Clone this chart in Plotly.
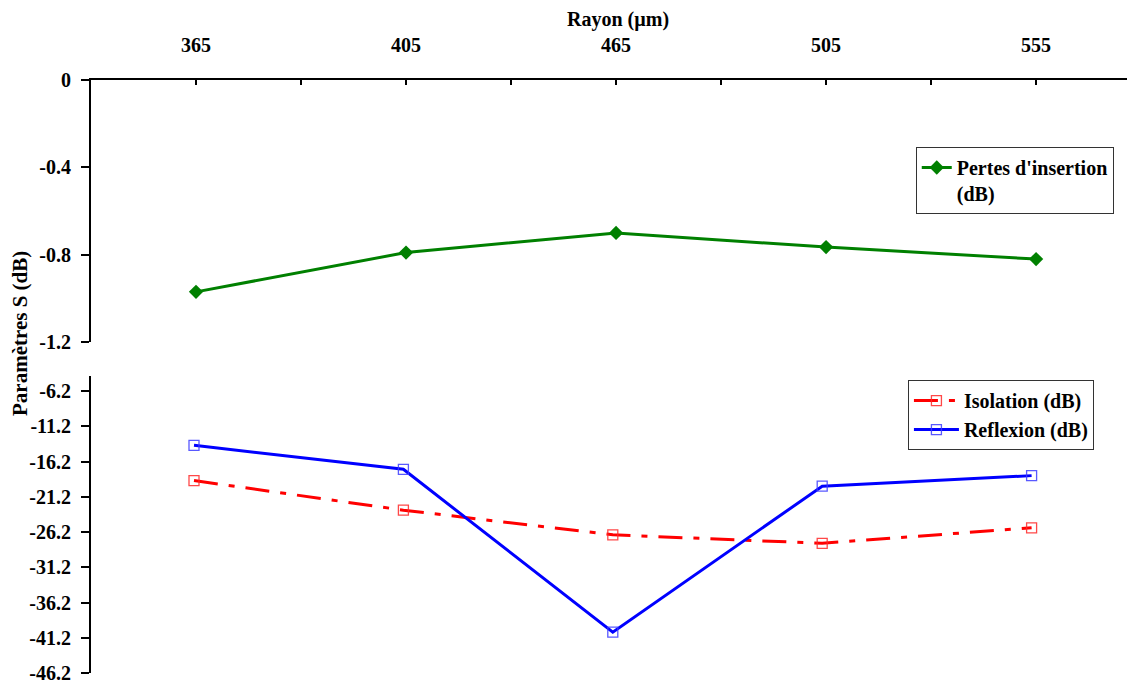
import plotly.graph_objects as go

# ---- data ----
rayon = ["365", "405", "465", "505", "555"]
pertes_insertion = [-0.97, -0.79, -0.70, -0.765, -0.82]
isolation = [-18.9, -23.1, -26.6, -27.8, -25.6]
reflexion = [-13.9, -17.3, -40.4, -19.7, -18.2]

top_tickvals = [0, -0.4, -0.8, -1.2]
top_ticktext = ["0", "-0.4", "-0.8", "-1.2"]
bot_tickvals = [-6.2, -11.2, -16.2, -21.2, -26.2, -31.2, -36.2, -41.2, -46.2]
bot_ticktext = ["-6.2", "-11.2", "-16.2", "-21.2", "-26.2", "-31.2", "-36.2", "-41.2", "-46.2"]

pos = list(range(len(rayon)))
minor_pos = [p + 0.5 for p in pos]

FONT = "Liberation Serif, Times New Roman, serif"

fig = go.Figure()

fig.add_trace(go.Scatter(
    x=pos, y=pertes_insertion, xaxis="x", yaxis="y",
    mode="lines+markers", name="Pertes d'insertion<br>(dB)",
    line=dict(color="#008000", width=3),
    marker=dict(symbol="diamond", size=11, color="#008000"),
    legend="legend", showlegend=True,
))
fig.add_trace(go.Scatter(
    x=pos, y=isolation, xaxis="x2", yaxis="y2",
    mode="lines+markers", name="Isolation (dB)",
    line=dict(color="#ff0000", width=3, dash="24px,11px,6px,11px"),
    marker=dict(symbol="square-open", size=10, color="rgba(255,40,40,0.85)",
                line=dict(width=1.3, color="rgba(255,40,40,0.85)")),
    legend="legend2", showlegend=True,
))
fig.add_trace(go.Scatter(
    x=pos, y=reflexion, xaxis="x2", yaxis="y2",
    mode="lines+markers", name="Reflexion (dB)",
    line=dict(color="#0000ff", width=3),
    marker=dict(symbol="square-open", size=10, color="rgba(60,60,255,0.85)",
                line=dict(width=1.3, color="rgba(60,60,255,0.85)")),
    legend="legend2", showlegend=True,
))

tick_font = dict(family=FONT, size=20, color="black", weight="bold")
legend_font = dict(family=FONT, size=20, color="black", weight="bold")

# the page body has an 8px margin: figure spans x 8..1135, y 8..686
fig.update_layout(
    width=1127, height=678,
    margin=dict(l=83, r=0, t=72, b=13),
    paper_bgcolor="white", plot_bgcolor="white",
    showlegend=True,
    font=dict(family=FONT, size=20, color="black", weight="bold"),
    xaxis=dict(
        domain=[0, 1], anchor="y", side="top",
        range=[-0.5, 4.471],
        tickmode="array", tickvals=pos, ticktext=rayon,
        ticks="inside", ticklen=5, tickwidth=2, tickcolor="black",
        showline=True, linecolor="black", linewidth=2,
        showgrid=False, zeroline=False,
        tickfont=tick_font, ticklabelstandoff=18,
        minor=dict(tickmode="array", tickvals=minor_pos, ticks="inside",
                   ticklen=5, tickwidth=2, tickcolor="black", showgrid=False),
    ),
    yaxis=dict(
        domain=[0.558, 1], anchor="x",
        range=[-1.2, 0],
        tickmode="array", tickvals=top_tickvals, ticktext=top_ticktext,
        ticks="outside", ticklen=8, tickwidth=2, tickcolor="black",
        showline=True, linecolor="black", linewidth=2,
        showgrid=False, zeroline=False,
        tickfont=tick_font, ticklabelstandoff=6,
    ),
    xaxis2=dict(
        domain=[0, 1], anchor="y2",
        range=[-0.4919, 4.4938],
        visible=False, showgrid=False, zeroline=False,
    ),
    yaxis2=dict(
        domain=[0, 0.5008], anchor="x2",
        range=[-46.2, -4.07],
        tickmode="array", tickvals=bot_tickvals, ticktext=bot_ticktext,
        ticks="outside", ticklen=8, tickwidth=2, tickcolor="black",
        showline=True, linecolor="black", linewidth=2,
        showgrid=False, zeroline=False,
        tickfont=tick_font, ticklabelstandoff=6,
    ),
    legend=dict(
        x=0.790, y=0.887, xanchor="left", yanchor="top",
        bgcolor="white", bordercolor="#333333", borderwidth=1,
        font=legend_font, valign="top", visible=True,
    ),
    legend2=dict(
        x=0.7825, y=0.494, xanchor="left", yanchor="top",
        bgcolor="white", bordercolor="#333333", borderwidth=1,
        font=legend_font, tracegroupgap=0, visible=True, itemwidth=45,
    ),
    annotations=[
        dict(text="Rayon (µm)", x=0.5048, y=1.1012, xref="paper", yref="paper",
             showarrow=False, xanchor="center", yanchor="middle",
             font=dict(family=FONT, size=20, color="black", weight="bold")),
        dict(text="Paramètres S (dB)", x=-0.068, y=0.5717, xref="paper", yref="paper",
             showarrow=False, xanchor="center", yanchor="middle", textangle=-90,
             font=dict(family=FONT, size=21, color="black", weight="bold")),
    ],
)

fig.write_html("out.html")
